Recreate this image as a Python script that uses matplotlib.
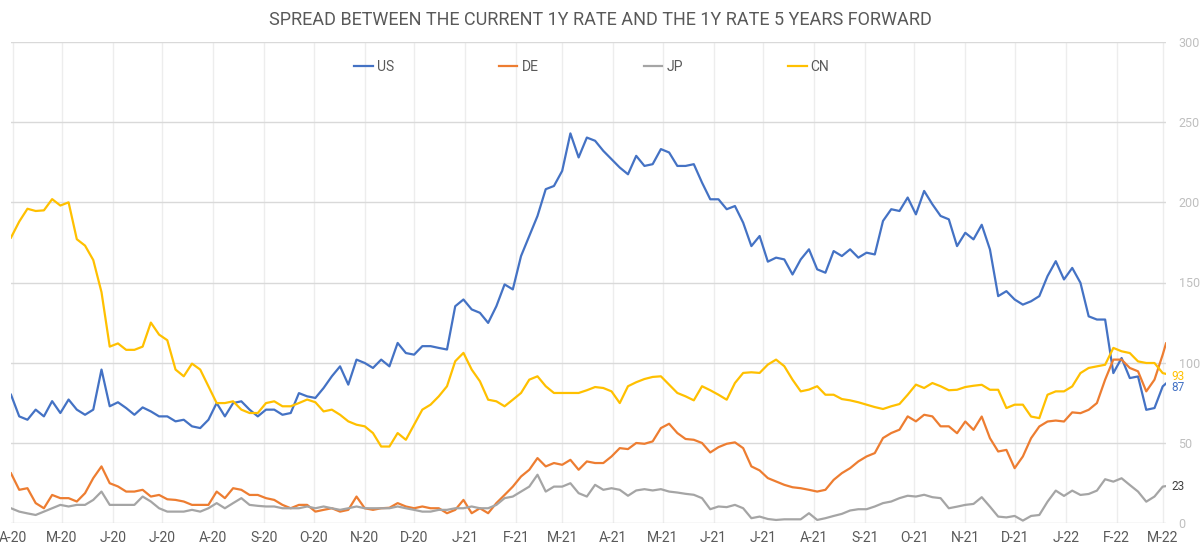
import matplotlib
matplotlib.use("Agg")
import matplotlib.pyplot as plt
from matplotlib import font_manager as fm
import pandas as pd

# spreads in bp, every 5 days
us = [80, 66.5, 64.4, 70.7, 66.5, 76, 68.6, 77, 70.7, 67.5,
      70.7, 95.7, 72.8, 75.3, 71.7, 67.5, 72.1, 69.6, 66.5, 66.5,
      63.4, 64.4, 60.3, 59.2, 64.4, 74.8, 66.5, 74.8, 75.9, 70.7,
      66.5, 70.7, 70.7, 67.5, 68.6, 81, 79, 78, 84.2, 91.5,
      97.7, 86.3, 101.9, 99.8, 96.7, 101.9, 97.7, 112.3, 106, 105,
      110.3, 110.3, 109.2, 108.2, 135.2, 139.4, 133.2, 131.1, 124.8, 135.2,
      148.8, 145.7, 166.5, 179, 191.5, 208.2, 210.2, 219.6, 243, 228,
      240.4, 238.4, 232.1, 226.9, 221.7, 217.5, 229, 222.7, 223.8, 233.2,
      231.1, 222.7, 222.7, 223.8, 212.3, 201.9, 201.9, 195.7, 197.7, 187.3,
      172.7, 179, 163, 165.5, 164.4, 155, 164.4, 170.7, 158.2, 156.1,
      169.6, 166.5, 170.7, 165.5, 168.6, 167.5, 188.4, 195.7, 194.6, 203,
      192.5, 207.1, 198.8, 191.5, 189.4, 172.7, 181, 176.9, 186, 170.6,
      141.5, 144.6, 139.4, 136.2, 138.3, 141.5, 154, 163.3, 151.9, 159.1,
      149.8, 128.9, 126.9, 126.9, 93.5, 102.9, 90.4, 91.4, 70.6, 71.7,
      85.2, 87]

de = [31, 20.7, 21.7, 12.4, 9.2, 17.5, 15.5, 15.5, 13.4, 18.6,
      28, 35.3, 24.8, 22.8, 19.6, 19.6, 20.7, 16.5, 17.5, 14.8,
      14.4, 13.4, 11.3, 11.3, 11.3, 19.6, 15.5, 21.7, 20.7, 17.5,
      17.5, 15.5, 14.4, 11.3, 9.2, 11.3, 11.3, 7.1, 8.2, 9.2,
      7.1, 8.2, 16.5, 9.2, 8.2, 9.2, 9.5, 12.4, 10.3, 9.2,
      10.3, 9.2, 9.2, 6.1, 8.2, 14.4, 6.1, 9.2, 6.1, 12.4,
      17.5, 22.7, 29, 33.2, 40.5, 35.3, 37.4, 36.3, 39.4, 33.2,
      38.4, 37.4, 37.4, 41.5, 46.7, 46.1, 49.9, 49.4, 50.9, 59.2,
      61.9, 56.1, 52.4, 51.9, 49.9, 44, 47.3, 49.4, 50.3, 46.7,
      35.3, 32.8, 28, 25.9, 23.8, 22.3, 21.7, 20.7, 19.6, 20.7,
      26.9, 31.1, 34.2, 38.4, 41.5, 43.6, 53, 56.1, 58.2, 66.5,
      63.4, 67.5, 66.5, 60.3, 60.3, 56, 63.3, 58.1, 66.4, 52.9,
      44.6, 45.6, 34.2, 41.5, 52.9, 60.2, 63.3, 63.9, 63.3, 69,
      68.5, 70.6, 74.8, 89.4, 101.9, 101.9, 96.7, 94.6, 82.1, 89.4,
      105, 112]

jp = [9.2, 7.1, 6, 5, 7.1, 9.2, 11.3, 10.3, 11.3, 11.3,
      14.4, 19.6, 11.3, 11.3, 11.3, 11.3, 16.5, 13.4, 9.2, 7.1,
      7.1, 7.1, 8.2, 7.1, 9.2, 12.4, 9.2, 12.4, 15.5, 11.3,
      10.7, 10.3, 10.3, 9.2, 9.2, 9.2, 10.3, 9.2, 10.3, 9.2,
      8.2, 9.2, 10.3, 9.2, 9.2, 9.2, 9.2, 10.3, 9.2, 8.2,
      7.1, 7.1, 8.2, 8.2, 9.2, 9.2, 10.3, 9.2, 9.2, 11.3,
      15.5, 16.5, 19.6, 22.7, 30.1, 19.6, 22.7, 22.7, 24.8, 18.6,
      16.5, 23.8, 20.7, 21.7, 20.7, 17, 20.3, 21.1, 20.3, 21.1,
      19.6, 19, 18.2, 17.6, 15.5, 8.6, 10.3, 9.9, 11.3, 9.2,
      3, 4, 2.5, 1.9, 2.3, 2.3, 2.3, 6.1, 1.9, 3,
      4.4, 5.7, 7.8, 8.6, 8.6, 10.3, 12.4, 13.4, 15.5, 17,
      16.5, 17.6, 16.1, 15.5, 9.2, 10.2, 11.3, 11.9, 16.1, 10.2,
      4, 3.5, 4.4, 1.5, 4.4, 5, 13.3, 20.2, 16.9, 20.2,
      17.5, 18.1, 20.2, 27.3, 25.8, 27.9, 23.7, 19.6, 13.3, 16.5,
      22.7, 23]

cn = [178, 188, 196, 194.6, 195, 202, 198, 200, 177, 173,
      164, 144, 110, 112, 108, 108, 110, 125, 117.5, 114,
      95.7, 91.5, 99.4, 95.7, 85.3, 74.8, 74.8, 75.9, 70.7, 68.6,
      68.6, 74.8, 75.9, 72.8, 72.8, 74.8, 77, 75.3, 69.6, 70.7,
      67.5, 63.4, 61.3, 60.3, 56.1, 47.7, 47.7, 56.1, 51.9, 61.3,
      70.7, 73.8, 79, 85.3, 100.9, 106.1, 95.7, 88.4, 76.9, 75.9,
      72.8, 76.9, 81.1, 89.4, 91.5, 85.3, 81.1, 81.1, 81.1, 81.1,
      82.8, 84.8, 84.2, 82.1, 74.8, 85.3, 87.8, 89.8, 91.1, 91.5,
      86.3, 81.1, 79, 76.5, 85.3, 82.8, 80, 76.9, 87.3, 93.6,
      94, 93.6, 98.8, 101.9, 97.8, 89.4, 82.1, 83.2, 85.3, 80,
      80, 77.3, 76.5, 75.3, 73.8, 72.3, 71.1, 72.8, 74.2, 80,
      86.3, 84.2, 87.3, 85.3, 82.8, 83.1, 84.8, 85.6, 86.2, 83.1,
      83.1, 71.7, 73.8, 73.8, 66.4, 65.4, 80, 82.1, 82.1, 85.2,
      93.5, 96.7, 97.7, 98.7, 109.2, 107.1, 106, 100.8, 99.8, 99.8,
      93.5, 93]

dates = list(pd.date_range("2020-03-31", periods=141, freq="5D")) + [pd.Timestamp("2022-03-03")]

series = [("US", us, "#4472C4"), ("DE", de, "#ED7D31"),
          ("JP", jp, "#A5A5A5"), ("CN", cn, "#FFC000")]
# end labels: colour and small vertical nudge (points)
end_labels = {"CN": ("#FFC000", -2), "US": ("#4472C4", -3), "JP": ("#404040", 0)}

names = {f.name for f in fm.fontManager.ttflist}
base_font = "Liberation Sans Narrow" if "Liberation Sans Narrow" in names else "Roboto"
plt.rcParams["font.family"] = [base_font, "DejaVu Sans"]

fig = plt.figure(figsize=(12, 5.49), dpi=100)
ax = fig.add_axes([11 / 1200, 1 - 523 / 549, 1155 / 1200, 481 / 549])

for name, vals, col in series:
    ax.plot(dates, vals, color=col, lw=1.6, label=name, solid_joinstyle="round")

ax.set_ylim(0, 300)
ax.set_xlim(dates[0], dates[-1])
ax.set_yticks(range(0, 301, 50))
ax.yaxis.tick_right()
ax.tick_params(axis="y", length=0, pad=9, labelsize=9, labelcolor="#bfbfbf")

months = pd.date_range("2020-04-01", "2022-03-01", freq="MS")
ax.set_xticks(months)
ax.set_xticklabels([m.strftime("%b")[0] + "-" + m.strftime("%y") for m in months])
ax.tick_params(axis="x", length=0, pad=6, labelsize=10, labelcolor="#595959")

ax.grid(axis="y", color="#d9d9d9", lw=1)
ax.grid(axis="x", color="#ededed", lw=1)
ax.set_axisbelow(True)
for s in ax.spines.values():
    s.set_visible(False)

for name, vals, col in series:
    if name in end_labels:
        c, dy = end_labels[name]
        ax.annotate(f"{vals[-1]:.0f}", xy=(dates[-1], vals[-1]), xytext=(4, dy),
                    textcoords="offset points", va="center", ha="left",
                    fontsize=8.5, color=c)

leg = ax.legend(ncol=4, loc="center", bbox_to_anchor=(0.503, 0.948), frameon=False,
                fontsize=10, handlelength=1.3, handletextpad=0.3, columnspacing=7.6)
for t in leg.get_texts():
    t.set_color("#595959")

fig.text(0.5, 1 - 20 / 549, "SPREAD BETWEEN THE CURRENT 1Y RATE AND THE 1Y RATE 5 YEARS FORWARD",
         ha="center", va="center", fontsize=13, color="#595959")

fig.savefig("out.png", dpi=100)
